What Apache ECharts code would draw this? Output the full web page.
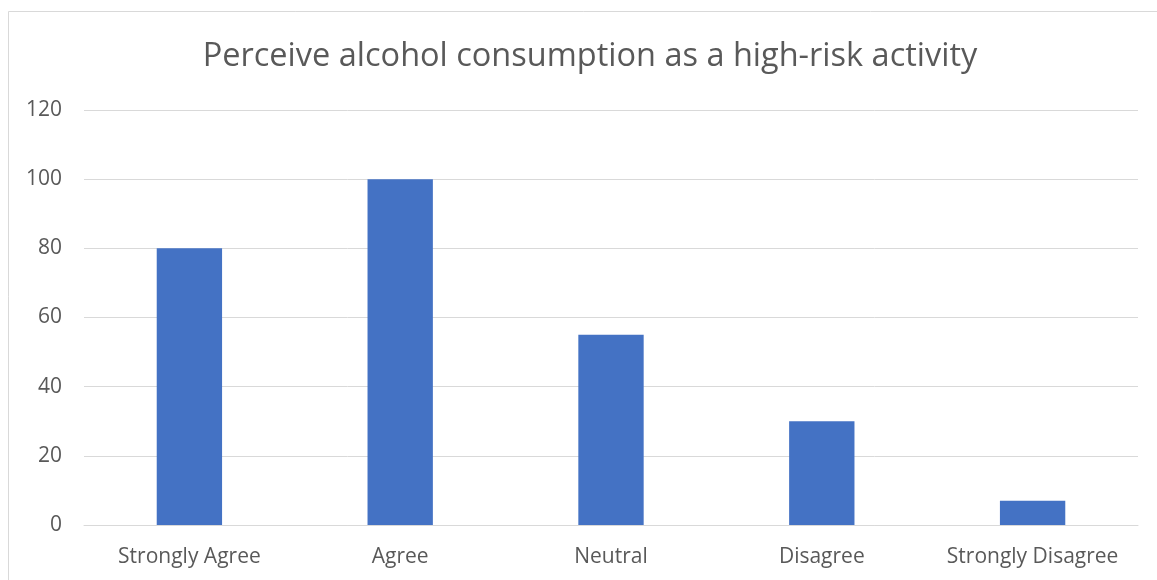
<!DOCTYPE html>
<html>
<head>
<meta charset="utf-8">
<script src="https://cdn.jsdelivr.net/npm/echarts@6/dist/echarts.min.js"></script>
<style>
  html, body { margin: 0; padding: 0; background: #fff; }
  #chart { width: 1157px; height: 580px; }
</style>
</head>
<body>
<div id="chart"></div>
<script>
// Survey responses: perception of alcohol consumption as a high-risk activity
const categories = ['Strongly Agree', 'Agree', 'Neutral', 'Disagree', 'Strongly Disagree'];
const responses = [80, 100, 55, 30, 7];
const yTicks = { min: 0, max: 120, interval: 20 };

const FONT = '"Open Sans", "Liberation Sans", sans-serif';
const chart = echarts.init(document.getElementById('chart'));

chart.setOption({
  animation: false,
  backgroundColor: '#ffffff',
  graphic: [{
    type: 'rect',
    silent: true,
    shape: { x: 8.5, y: 11.5, width: 1300, height: 700 },
    style: { fill: 'none', stroke: '#d9d9d9', lineWidth: 1 }
  }],
  title: {
    text: 'Perceive alcohol consumption as a high-risk activity',
    left: 585,
    top: 35,
    textAlign: 'center',
    textStyle: { fontFamily: FONT, fontSize: 32.5, fontWeight: 'normal', color: '#595959' }
  },
  grid: { left: 84, right: 19, top: 110, bottom: 55, containLabel: false },
  xAxis: {
    type: 'category',
    data: categories,
    axisLine: { show: true, lineStyle: { color: '#d9d9d9', width: 1 } },
    axisTick: { show: false },
    axisLabel: {
      fontFamily: FONT, fontSize: 21, color: '#595959', margin: 22,
      interval: 0, hideOverlap: false
    }
  },
  yAxis: {
    type: 'value',
    min: yTicks.min,
    max: yTicks.max,
    interval: yTicks.interval,
    axisLine: { show: false },
    axisTick: { show: false },
    splitLine: { lineStyle: { color: '#d9d9d9', width: 1 } },
    axisLabel: { fontFamily: FONT, fontSize: 21, color: '#595959', margin: 22 }
  },
  series: [{
    type: 'bar',
    data: responses,
    barWidth: '31%',
    itemStyle: { color: '#4472c4' }
  }]
});
</script>
</body>
</html>
